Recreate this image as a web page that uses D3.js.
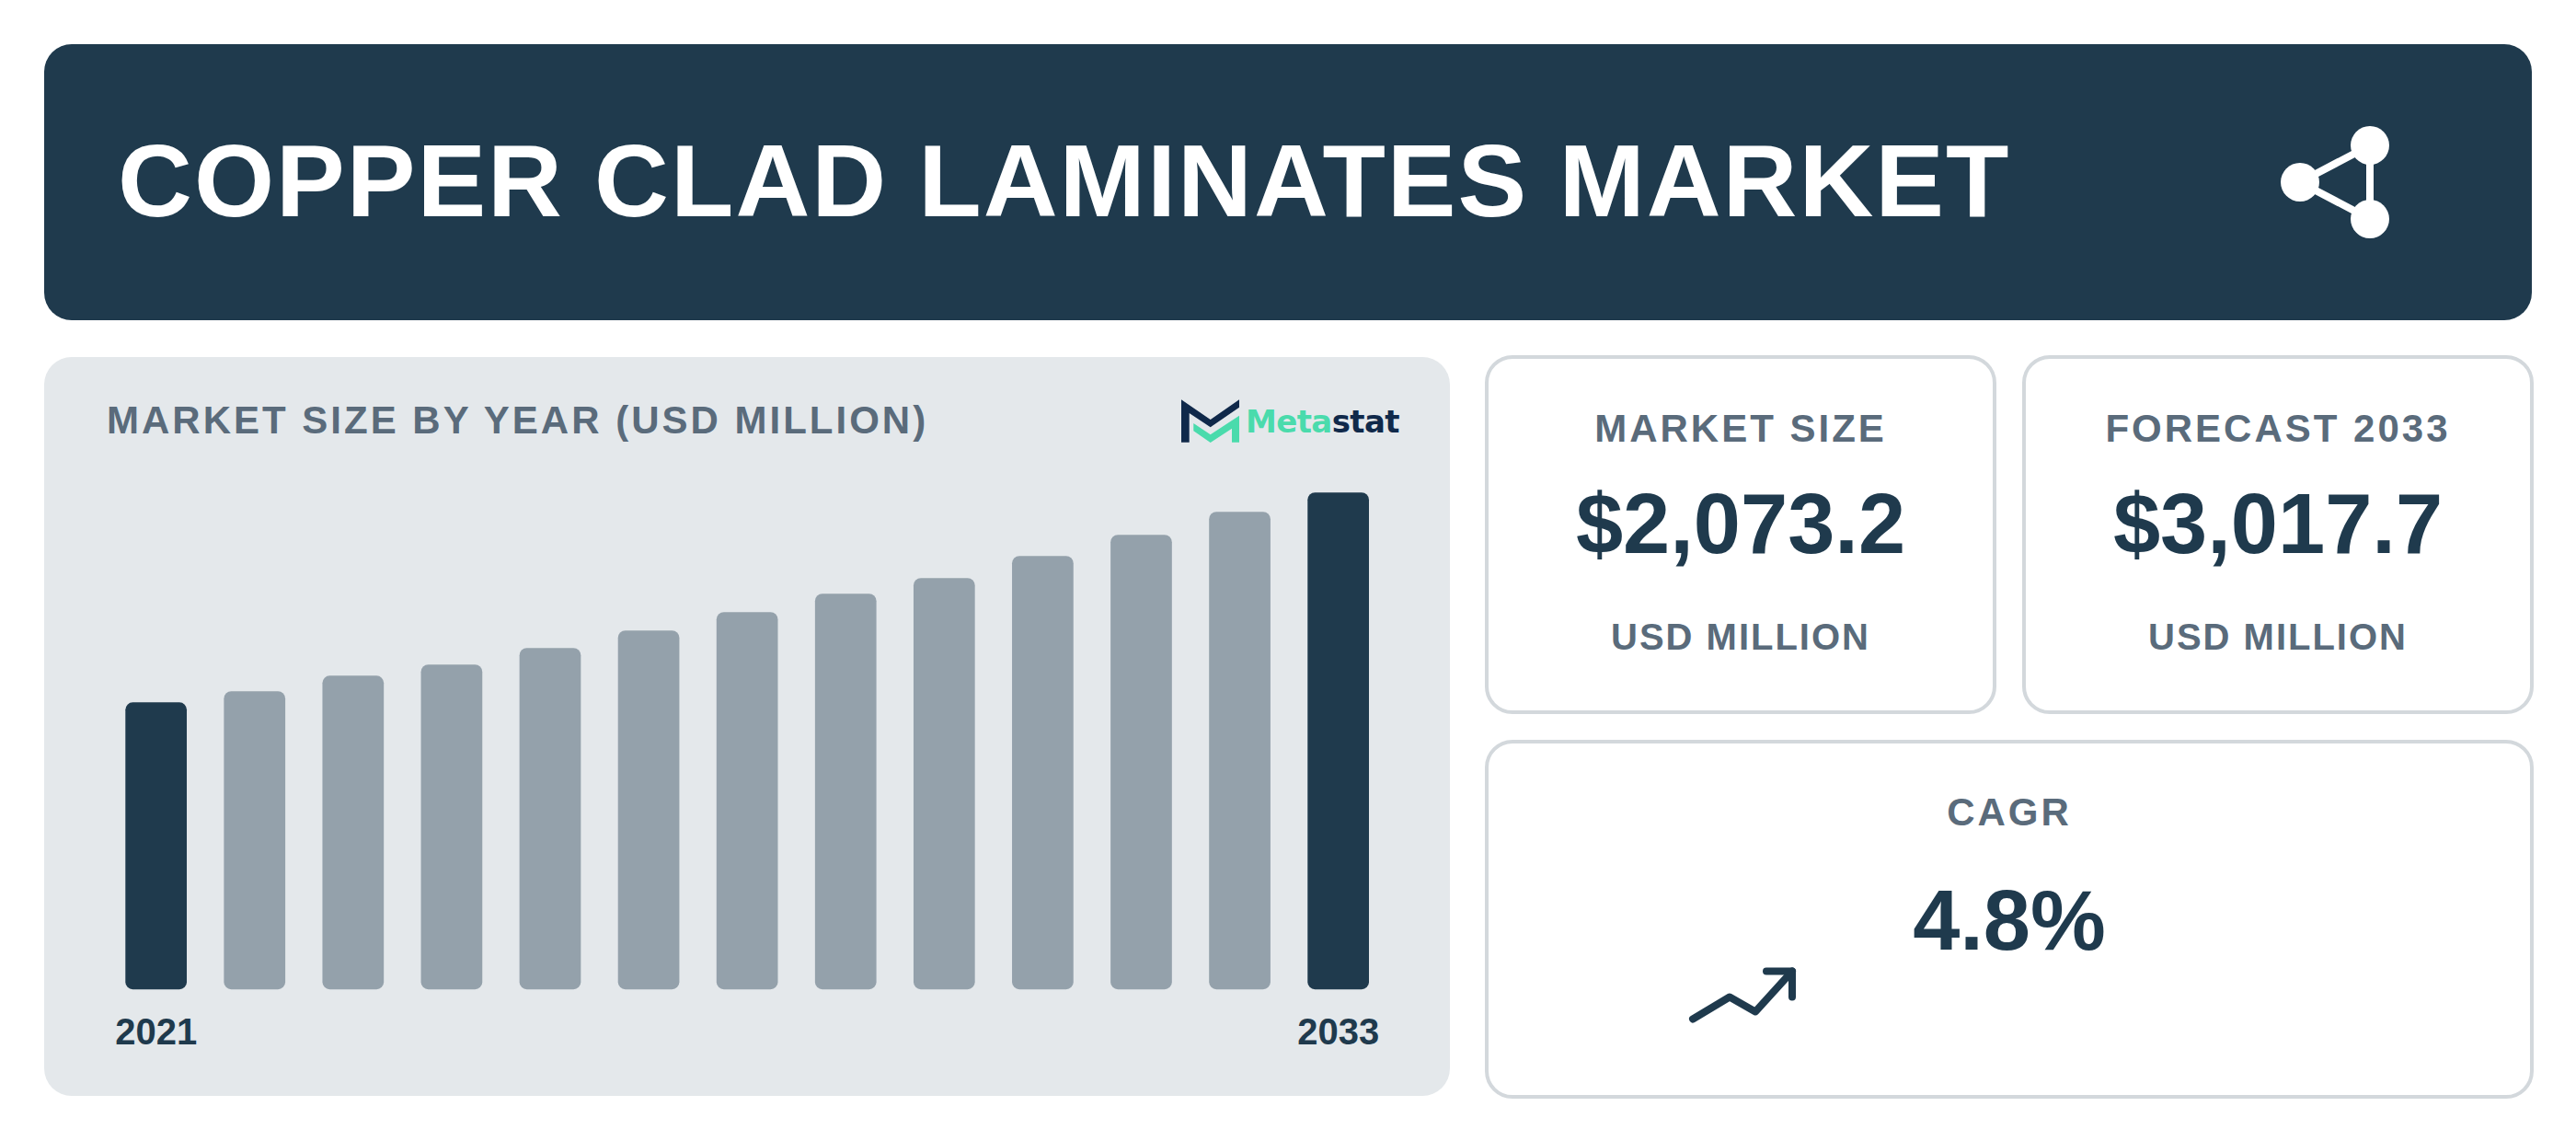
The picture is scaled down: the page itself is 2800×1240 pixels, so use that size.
<!DOCTYPE html>
<html><head><meta charset="utf-8">
<script src="https://cdn.jsdelivr.net/npm/d3@7/dist/d3.min.js"></script>
<style>html,body{margin:0;padding:0;background:#fff}svg{display:block}text{font-family:"Liberation Sans",Arial,sans-serif;font-weight:700}</style>
</head><body><svg id="c" width="2800" height="1240" viewBox="0 0 2800 1240"></svg>
<script>
const years=[2021,2022,2023,2024,2025,2026,2027,2028,2029,2030,2031,2032,2033];
const marketSize=[1743,1811,1905,1973,2073.2,2179,2291,2403,2498,2632,2761,2900,3017.7];
const yearTicks=[2021,2033];
const title="COPPER CLAD LAMINATES MARKET";
const chartTitle="MARKET SIZE BY YEAR (USD MILLION)";
const navy="#1f3a4d",grey="#94a1ab",slate="#5a6b7b",border="#d3d8dc",panel="#e4e8eb";
const svg=d3.select("#c");
const T=(s,x,y,size,fill,anchor,ls)=>svg.append("text").attr("x",x).attr("y",y).attr("font-size",size).attr("fill",fill).attr("text-anchor",anchor||"start").attr("letter-spacing",ls||0).text(s);
svg.append("rect").attr("x",48).attr("y",48).attr("width",2704).attr("height",300).attr("rx",30).attr("fill",navy);
T(title,128,235,112,"#fff","start",2);
const share=[[2576,158],[2500,198],[2576,238]];
svg.append("path").attr("d",d3.line()([...share,share[0]])).attr("fill","none").attr("stroke","#fff").attr("stroke-width",8);
svg.selectAll("circle.s").data(share).join("circle").attr("cx",d=>d[0]).attr("cy",d=>d[1]).attr("r",21).attr("fill","#fff");
svg.append("rect").attr("x",48).attr("y",388).attr("width",1528).attr("height",803).attr("rx",30).attr("fill",panel);
T(chartTitle,116,471,42,slate,"start",3);
// logo
svg.append("path").attr("d","M1284 434.300L1315.700 456L1347 434.300L1347 442.700L1315.700 464.300L1292.700 449L1292.700 480.700L1284 480.700Z").attr("fill","#10294a");
svg.append("path").attr("d","M1297.300 460L1315.700 472.300L1347 451.700L1347 480.700L1339 480.700L1339 465.700L1315.700 481L1297.300 468.300Z").attr("fill","#4adbac");
const lg=svg.append("text").attr("x",1354).attr("y",470).attr("font-size",34).attr("letter-spacing",-0.6).style("font-family","DejaVu Sans").style("font-weight",700);
lg.append("tspan").attr("fill","#4adbac").text("Meta");
lg.append("tspan").attr("fill","#10294a").text("stat");
// chart
const x=d3.scaleBand().domain(years).range([136.3,1488]).paddingInner(0.377).paddingOuter(0);
const y=d3.scaleLinear().domain([0,3017.7]).range([1075.2,535.2]);
svg.append("g").selectAll("rect").data(years).join("rect")
 .attr("x",d=>x(d)).attr("width",x.bandwidth())
 .attr("y",(d,i)=>y(marketSize[i])).attr("height",(d,i)=>y(0)-y(marketSize[i]))
 .attr("rx",8).attr("fill",d=>yearTicks.includes(d)?navy:grey);
const ax=svg.append("g").attr("transform","translate(0,1075.2)").call(d3.axisBottom(x).tickValues(yearTicks).tickSize(0).tickPadding(0));
ax.select(".domain").remove();
ax.selectAll("text").attr("y",60).attr("dy",0).attr("font-size",40).attr("fill",navy).style("font-family","Liberation Sans").style("font-weight",700);
// cards
[[1614,386,556,390],[2198,386,556,390],[1614,804,1140,390]].forEach(c=>svg.append("rect").attr("x",c[0]+2).attr("y",c[1]+2).attr("width",c[2]-4).attr("height",c[3]-4).attr("rx",28).attr("fill","#fff").attr("stroke",border).attr("stroke-width",4));
T("MARKET SIZE",1892,480,42,slate,"middle",3);
T("$2,073.2",1892,601,92,navy,"middle",0);
T("USD MILLION",1892,706,40,slate,"middle",2);
T("FORECAST 2033",2476,480,42,slate,"middle",3);
T("$3,017.7",2476,601,92,navy,"middle",0);
T("USD MILLION",2476,706,40,slate,"middle",2);
T("CAGR",2184,897,42,slate,"middle",3);
T("4.8%",2184,1032,92,navy,"middle",0);
svg.append("path").attr("d",d3.line()([[1840,1107.5],[1880,1083.5],[1908,1099.5],[1948,1055.5]])).attr("fill","none").attr("stroke",navy).attr("stroke-width",8).attr("stroke-linecap","round").attr("stroke-linejoin","round");
svg.append("path").attr("d",d3.line()([[1920,1055.5],[1948,1055.5],[1948,1083.5]])).attr("fill","none").attr("stroke",navy).attr("stroke-width",8).attr("stroke-linecap","round").attr("stroke-linejoin","round");
</script></body></html>
